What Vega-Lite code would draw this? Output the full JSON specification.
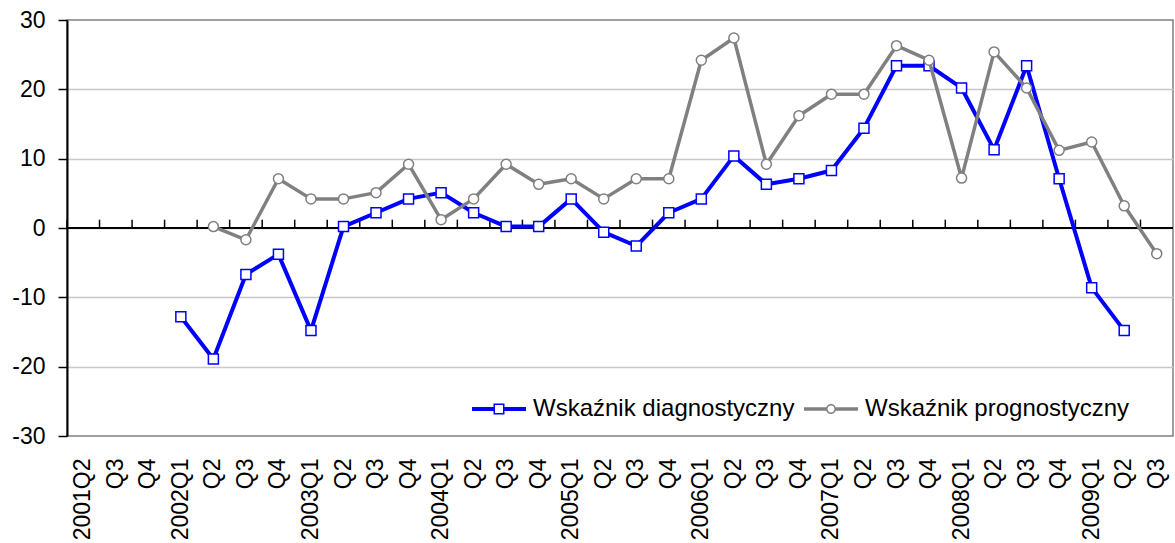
{
  "$schema": "https://vega.github.io/schema/vega-lite/v6.json",
  "width": 1106,
  "height": 416,
  "autosize": {"type": "none"},
  "padding": {"left": 67, "top": 20, "right": 2, "bottom": 107},
  "background": "white",
  "config": {
    "font": "Liberation Sans",
    "view": {"stroke": "#808080", "strokeWidth": 1.5},
    "axisX": {
      "title": null,
      "labelAngle": -90,
      "labelAlign": "right",
      "labelBaseline": "middle",
      "labelFontSize": 23,
      "labelColor": "black",
      "labelFont": "Liberation Sans",
      "ticks": false,
      "tickSize": 0,
      "domain": false,
      "grid": false,
      "labelPadding": 22
    },
    "axisY": {
      "title": null,
      "labelFontSize": 23,
      "labelColor": "black",
      "labelFont": "Liberation Sans",
      "domainColor": "black",
      "domainWidth": 2,
      "tickColor": "black",
      "tickSize": 9,
      "tickWidth": 1.5,
      "labelPadding": 13,
      "grid": true,
      "gridWidth": 1.5,
      "gridColor": "#c8c8c8"
    }
  },
  "data": {
    "values": [
      {"q": "2001Q2", "d": null, "p": null},
      {"q": "2001Q3", "d": null, "p": null},
      {"q": "2001Q4", "d": null, "p": null},
      {"q": "2002Q1", "d": -12.8, "p": null},
      {"q": "2002Q2", "d": -18.9, "p": 0.2},
      {"q": "2002Q3", "d": -6.7, "p": -1.7},
      {"q": "2002Q4", "d": -3.8, "p": 7.1},
      {"q": "2003Q1", "d": -14.8, "p": 4.2},
      {"q": "2003Q2", "d": 0.2, "p": 4.2},
      {"q": "2003Q3", "d": 2.2, "p": 5.1},
      {"q": "2003Q4", "d": 4.2, "p": 9.2},
      {"q": "2004Q1", "d": 5.1, "p": 1.2},
      {"q": "2004Q2", "d": 2.2, "p": 4.2},
      {"q": "2004Q3", "d": 0.2, "p": 9.2},
      {"q": "2004Q4", "d": 0.2, "p": 6.3},
      {"q": "2005Q1", "d": 4.2, "p": 7.1},
      {"q": "2005Q2", "d": -0.6, "p": 4.2},
      {"q": "2005Q3", "d": -2.6, "p": 7.1},
      {"q": "2005Q4", "d": 2.2, "p": 7.1},
      {"q": "2006Q1", "d": 4.2, "p": 24.2},
      {"q": "2006Q2", "d": 10.4, "p": 27.4},
      {"q": "2006Q3", "d": 6.3, "p": 9.2},
      {"q": "2006Q4", "d": 7.1, "p": 16.2},
      {"q": "2007Q1", "d": 8.3, "p": 19.3},
      {"q": "2007Q2", "d": 14.4, "p": 19.3},
      {"q": "2007Q3", "d": 23.4, "p": 26.3},
      {"q": "2007Q4", "d": 23.4, "p": 24.2},
      {"q": "2008Q1", "d": 20.2, "p": 7.2},
      {"q": "2008Q2", "d": 11.3, "p": 25.4},
      {"q": "2008Q3", "d": 23.4, "p": 20.2},
      {"q": "2008Q4", "d": 7.1, "p": 11.2},
      {"q": "2009Q1", "d": -8.6, "p": 12.4},
      {"q": "2009Q2", "d": -14.8, "p": 3.2},
      {"q": "2009Q3", "d": null, "p": -3.7}
    ]
  },
  "layer": [
    {
      "mark": {"type": "rule", "color": "black", "strokeWidth": 2},
      "encoding": {
        "y": {"datum": 0, "type": "quantitative", "scale": {"domain": [-30, 30], "nice": false},
          "axis": {"title": null, "values": [-30, -20, -10, 0, 10, 20, 30], "labelExpr": "'' + datum.value", "gridColor": {"condition": {"test": "abs(datum.value)==30", "value": "transparent"}, "value": "#c8c8c8"}}}
      }
    },
    {
      "mark": {"type": "rule", "color": "black", "strokeWidth": 1.5},
      "encoding": {
        "x": {"field": "q", "type": "ordinal", "bandPosition": 0,
          "scale": {"type": "band", "paddingInner": 0, "paddingOuter": 0},
          "axis": {"title": null, "labelExpr": "(indexof(datum.value,'Q1')==4 || datum.value=='2001Q2') ? datum.value : substring(datum.value,4)"}},
        "y": {"datum": 0, "type": "quantitative", "scale": {"domain": [-30, 30], "nice": false},
          "axis": {"title": null, "values": [-30, -20, -10, 0, 10, 20, 30], "labelExpr": "'' + datum.value", "gridColor": {"condition": {"test": "abs(datum.value)==30", "value": "transparent"}, "value": "#c8c8c8"}}},
        "y2": {"datum": 1.2}
      }
    },
    {
      "mark": {"type": "line", "color": "#0000ff", "strokeWidth": 4, "strokeJoin": "round"},
      "encoding": {
        "x": {"field": "q", "type": "ordinal", "bandPosition": 0.5,
          "scale": {"type": "band", "paddingInner": 0, "paddingOuter": 0},
          "axis": {"title": null, "labelExpr": "(indexof(datum.value,'Q1')==4 || datum.value=='2001Q2') ? datum.value : substring(datum.value,4)"}},
        "y": {"field": "d", "type": "quantitative", "scale": {"domain": [-30, 30], "nice": false},
          "axis": {"title": null, "values": [-30, -20, -10, 0, 10, 20, 30], "labelExpr": "'' + datum.value", "gridColor": {"condition": {"test": "abs(datum.value)==30", "value": "transparent"}, "value": "#c8c8c8"}}}
      }
    },
    {
      "mark": {"type": "point", "shape": "square", "size": 100, "filled": true, "fill": "white", "stroke": "#0000ff", "strokeWidth": 1.5, "opacity": 1},
      "encoding": {
        "x": {"field": "q", "type": "ordinal", "bandPosition": 0.5,
          "scale": {"type": "band", "paddingInner": 0, "paddingOuter": 0},
          "axis": {"title": null, "labelExpr": "(indexof(datum.value,'Q1')==4 || datum.value=='2001Q2') ? datum.value : substring(datum.value,4)"}},
        "y": {"field": "d", "type": "quantitative", "scale": {"domain": [-30, 30], "nice": false},
          "axis": {"title": null, "values": [-30, -20, -10, 0, 10, 20, 30], "labelExpr": "'' + datum.value", "gridColor": {"condition": {"test": "abs(datum.value)==30", "value": "transparent"}, "value": "#c8c8c8"}}}
      }
    },
    {
      "mark": {"type": "line", "color": "#808080", "strokeWidth": 3.5, "strokeJoin": "round"},
      "encoding": {
        "x": {"field": "q", "type": "ordinal", "bandPosition": 0.5,
          "scale": {"type": "band", "paddingInner": 0, "paddingOuter": 0},
          "axis": {"title": null, "labelExpr": "(indexof(datum.value,'Q1')==4 || datum.value=='2001Q2') ? datum.value : substring(datum.value,4)"}},
        "y": {"field": "p", "type": "quantitative", "scale": {"domain": [-30, 30], "nice": false},
          "axis": {"title": null, "values": [-30, -20, -10, 0, 10, 20, 30], "labelExpr": "'' + datum.value", "gridColor": {"condition": {"test": "abs(datum.value)==30", "value": "transparent"}, "value": "#c8c8c8"}}}
      }
    },
    {
      "mark": {"type": "point", "shape": "circle", "size": 100, "filled": true, "fill": "white", "stroke": "#808080", "strokeWidth": 1.5, "opacity": 1},
      "encoding": {
        "x": {"field": "q", "type": "ordinal", "bandPosition": 0.5,
          "scale": {"type": "band", "paddingInner": 0, "paddingOuter": 0},
          "axis": {"title": null, "labelExpr": "(indexof(datum.value,'Q1')==4 || datum.value=='2001Q2') ? datum.value : substring(datum.value,4)"}},
        "y": {"field": "p", "type": "quantitative", "scale": {"domain": [-30, 30], "nice": false},
          "axis": {"title": null, "values": [-30, -20, -10, 0, 10, 20, 30], "labelExpr": "'' + datum.value", "gridColor": {"condition": {"test": "abs(datum.value)==30", "value": "transparent"}, "value": "#c8c8c8"}}}
      }
    },
    {
      "transform": [
        {"fold": ["d", "p"], "as": ["s", "v"]},
        {"filter": "datum.v > 1000"}
      ],
      "mark": {"type": "point", "filled": true, "opacity": 1},
      "encoding": {
        "color": {
          "field": "s",
          "type": "nominal",
          "scale": {"domain": ["d", "p"], "range": ["#0000ff", "#808080"]},
          "legend": {
            "title": null,
            "orient": "none",
            "legendX": 405,
            "legendY": 362,
            "direction": "horizontal",
            "padding": 0,
            "labelFontSize": 24,
            "labelFont": "Liberation Sans",
            "labelColor": "black",
            "labelOffset": 7,
            "labelLimit": 0,
            "columnPadding": 9,
            "symbolSize": 2916,
            "symbolStrokeWidth": 0,
            "symbolOpacity": 1,
            "labelExpr": "datum.value=='d' ? 'Wskaźnik diagnostyczny' : 'Wskaźnik prognostyczny'"
          }
        },
        "shape": {
          "field": "s",
          "type": "nominal",
          "scale": {
            "domain": ["d", "p"],
            "range": [
              "M-1,-0.074H-0.204V0.074H-1Z M0.204,-0.074H1V0.074H0.204Z M-0.204,-0.204H0.204V0.204H-0.204Z M-0.148,-0.148V0.148H0.148V-0.148Z",
              "M-1,-0.065H-0.18V0.065H-1Z M0.18,-0.065H1V0.065H0.18Z M0.185,0A0.185,0.185,0,1,1,-0.185,0A0.185,0.185,0,1,1,0.185,0Z M0.13,0A0.13,0.13,0,1,0,-0.13,0A0.13,0.13,0,1,0,0.13,0Z"
            ]
          }
        }
      }
    }
  ]
}
